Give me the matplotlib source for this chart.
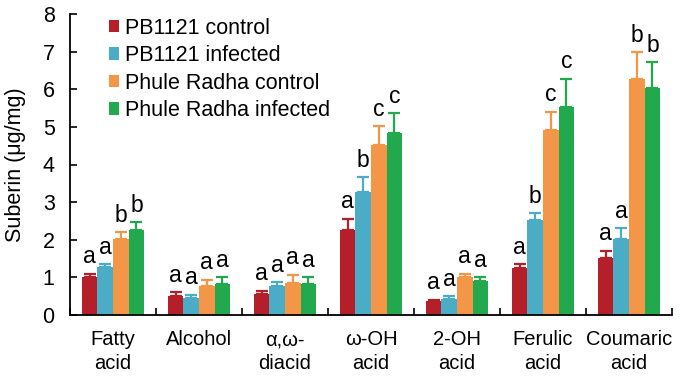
import matplotlib
matplotlib.use("Agg")
import matplotlib.pyplot as plt
import numpy as np
from matplotlib import font_manager

categories = ["Fatty\nacid", "Alcohol", "α,ω-\ndiacid", "ω-OH\nacid", "2-OH\nacid", "Ferulic\nacid", "Coumaric\nacid"]
series = ["PB1121 control", "PB1121 infected", "Phule Radha control", "Phule Radha infected"]
pb_control = [1.00, 0.51, 0.56, 2.27, 0.37, 1.26, 1.51]
pb_infected = [1.27, 0.46, 0.77, 3.26, 0.42, 2.52, 2.02]
pr_control = [2.02, 0.77, 0.86, 4.52, 1.00, 4.92, 6.27]
pr_infected = [2.27, 0.82, 0.82, 4.83, 0.91, 5.52, 6.03]
pb_control_err = [0.09, 0.09, 0.08, 0.29, 0.04, 0.09, 0.20]
pb_infected_err = [0.08, 0.08, 0.10, 0.40, 0.08, 0.18, 0.28]
pr_control_err = [0.18, 0.16, 0.20, 0.49, 0.09, 0.48, 0.71]
pr_infected_err = [0.19, 0.18, 0.18, 0.53, 0.09, 0.75, 0.69]
letters_pb_control = ["a", "a", "a", "a", "a", "a", "a"]
letters_pb_infected = ["a", "a", "a", "b", "a", "b", "a"]
letters_pr_control = ["b", "a", "a", "c", "a", "c", "b"]
letters_pr_infected = ["b", "a", "a", "c", "a", "c", "b"]
colors = ["#B51F29", "#4BACC6", "#F39647", "#22A84D"]

avail = {f.name for f in font_manager.fontManager.ttflist}
base_font = "Liberation Sans" if "Liberation Sans" in avail else "DejaVu Sans"
plt.rcParams["font.family"] = [base_font, "DejaVu Sans"]

fig = plt.figure(figsize=(6.87, 3.79), dpi=100)
ax = fig.add_axes([70/687, 1 - 315/379, (672 - 70)/687, (315 - 14)/379])

values = [pb_control, pb_infected, pr_control, pr_infected]
errs = [pb_control_err, pb_infected_err, pr_control_err, pr_infected_err]
letters = [letters_pb_control, letters_pb_infected, letters_pr_control, letters_pr_infected]
n = len(categories)
x = np.arange(n)
w = 0.182
offsets = (np.arange(4) - 1.5) * w
for i in range(4):
    xs = x + offsets[i]
    ax.bar(xs, values[i], width=w, color=colors[i], label=series[i], zorder=2)
    ax.errorbar(xs, values[i], yerr=[np.zeros(n), errs[i]], fmt="none",
                ecolor=colors[i], elinewidth=1.6, capsize=4.5, capthick=1.6, zorder=3)
    for j in range(n):
        ax.text(xs[j], values[i][j] + errs[i][j] + 0.15, letters[i][j],
                ha="center", va="bottom", fontsize=16.5, color="black")

ax.set_xlim(-0.5, n - 0.5)
ax.set_ylim(0, 8)
ax.set_yticks(range(9))
ax.set_yticklabels([str(v) for v in range(9)], fontsize=15.5)
ax.set_xticks(x)
ax.set_xticklabels(categories, fontsize=14.5, linespacing=1.3)
ax.set_xticks(np.arange(n + 1) - 0.5, minor=True)
ax.tick_params(axis="x", which="major", length=0, pad=11)
ax.tick_params(axis="x", which="minor", direction="in", length=5, width=1.2)
ax.tick_params(axis="y", direction="in", length=5, width=1.2, pad=11)
for s in ["top", "right"]:
    ax.spines[s].set_visible(False)
for s in ["left", "bottom"]:
    ax.spines[s].set_linewidth(1.3)
ax.set_ylabel("Suberin (μg/mg)", fontsize=15.5, labelpad=12)

ax.legend(loc="upper left", bbox_to_anchor=(0.05, 1.016), frameon=False, fontsize=15.5,
          handlelength=0.5, handleheight=0.5, handletextpad=0.25, labelspacing=0.3,
          borderaxespad=0)

fig.savefig("out.png", dpi=100)
